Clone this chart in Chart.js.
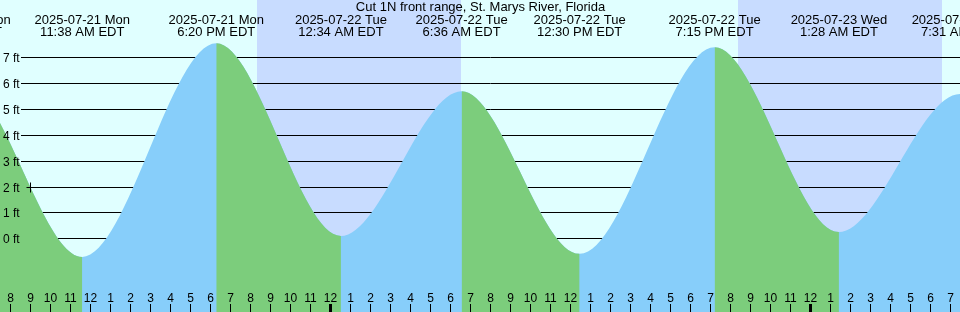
<!DOCTYPE html>
<html>
<head>
<meta charset="utf-8">
<script src="https://cdn.jsdelivr.net/npm/chart.js@4.4.1/dist/chart.umd.min.js"></script>
<style>
  html, body { margin: 0; padding: 0; background: #e0ffff; }
</style>
</head>
<body>
<canvas id="tideChart" width="960" height="312"></canvas>
<script>
//  Tide chart, hours are counted from 2025-07-22 00:00 EDT

var chartTitle = "Cut 1N front range, St. Marys River, Florida";

//  High / low tides (first and last ones are off screen)
var tideHours = [-24.2, -18.33, -12.367, -5.667, 0.567, 6.6, 12.5, 19.25, 25.467, 31.517, 37.6];
var tideFeet  = [0.2, 6.0, -0.72, 7.54, 0.09, 5.69, -0.6, 7.39, 0.24, 5.58, -0.5];
var tideDates = ["2025-07-20 Sun", "2025-07-21 Mon", "2025-07-21 Mon", "2025-07-21 Mon", "2025-07-22 Tue",
                 "2025-07-22 Tue", "2025-07-22 Tue", "2025-07-22 Tue", "2025-07-23 Wed", "2025-07-23 Wed", "2025-07-23 Wed"];
var tideTimes = ["11:48 PM EDT", "5:40 AM EDT", "11:38 AM EDT", "6:20 PM EDT", "12:34 AM EDT",
                 "6:36 AM EDT", "12:30 PM EDT", "7:15 PM EDT", "1:28 AM EDT", "7:31 AM EDT", "1:36 PM EDT"];

//  Night (sunset -> sunrise)
var nightStart = [-3.62, 20.40];
var nightEnd   = [6.55, 30.62];

//  Axis ticks
var footTicks = [0, 1, 2, 3, 4, 5, 6, 7];
var hourTicks = [];
for (var h = -16; h <= 31; h++) hourTicks.push(h);

//  "now" mark
var nowMark = {x: -14.98, y: 2};

var xMin = -16.48, xMax = 31.52;
var yMin = -2.85, yMax = 9.215;

var colBg = "#e0ffff";
var colNight = "#c8dcff";
var colRise = "#87cefa";
var colFall = "#7ccd7c";
var font = "'Liberation Sans', Arial, sans-serif";

function hourLabel(h) {
    var hh = ((h % 24) + 24) % 24;
    var v = hh % 12;
    return String(v === 0 ? 12 : v);
}

var tidePlugin = {
    id: 'tideDeco',
    beforeDraw: function (chart) {
        var ctx = chart.ctx, x = chart.scales.x;
        ctx.save();
        ctx.fillStyle = colBg;
        ctx.fillRect(0, 0, chart.width, chart.height);
        ctx.fillStyle = colNight;
        for (var i = 0; i < nightStart.length; i++) {
            var x0 = Math.round(x.getPixelForValue(nightStart[i]));
            var x1 = Math.round(x.getPixelForValue(nightEnd[i]));
            ctx.fillRect(x0, 0, x1 - x0, chart.height);
        }
        ctx.restore();
    },
    beforeDatasetsDraw: function (chart) {
        var ctx = chart.ctx, y = chart.scales.y;
        ctx.save();
        ctx.strokeStyle = "#000";
        ctx.lineWidth = 1;
        footTicks.forEach(function (f) {
            var py = Math.round(y.getPixelForValue(f)) + 0.5;
            ctx.beginPath();
            ctx.moveTo(21, py);
            ctx.lineTo(chart.width, py);
            ctx.stroke();
        });
        ctx.restore();
    },
    afterDatasetsDraw: function (chart) {
        var ctx = chart.ctx, x = chart.scales.x, y = chart.scales.y;
        ctx.save();
        ctx.fillStyle = "#000";
        ctx.strokeStyle = "#000";

        //  foot labels
        ctx.font = "12px " + font;
        ctx.textAlign = "left";
        ctx.textBaseline = "alphabetic";
        footTicks.forEach(function (f) {
            var py = Math.round(y.getPixelForValue(f));
            ctx.fillText(f + " ft", 3, py + 5);
        });

        //  hour labels and ticks
        ctx.textAlign = "center";
        hourTicks.forEach(function (h) {
            var px = Math.round(x.getPixelForValue(h));
            ctx.fillText(hourLabel(h), px + 0.5, 302);
            var midnight = (((h % 24) + 24) % 24) === 0;
            ctx.fillRect(midnight ? px - 1 : px, 304, midnight ? 3 : 1, 8);
        });

        //  high / low labels
        ctx.font = "13px " + font;
        tideHours.forEach(function (t, i) {
            var px = x.getPixelForValue(t);
            ctx.fillText(tideDates[i], px, 24);
            ctx.fillText(tideTimes[i], px, 36);
        });

        //  title
        ctx.fillText(chartTitle, 480.5, 11);

        //  now mark
        var mx = Math.round(x.getPixelForValue(nowMark.x)) + 0.5;
        var my = Math.round(y.getPixelForValue(nowMark.y)) + 0.5;
        ctx.beginPath();
        ctx.moveTo(mx - 4, my); ctx.lineTo(mx + 5, my);
        ctx.moveTo(mx, my - 5); ctx.lineTo(mx, my + 5);
        ctx.stroke();
        ctx.restore();
    }
};

var points = tideHours.map(function (t, i) { return {x: t, y: tideFeet[i]}; });

var common = {
    data: points,
    fill: 'start',
    borderWidth: 0,
    borderColor: 'rgba(0,0,0,0)',
    pointRadius: 0,
    cubicInterpolationMode: 'monotone'
};

new Chart(document.getElementById("tideChart"), {
    type: 'line',
    data: {
        datasets: [
            //  falling tide, drawn on top
            Object.assign({}, common, {
                label: 'falling',
                backgroundColor: colFall,
                segment: {
                    backgroundColor: function (c) {
                        return c.p1.parsed.y > c.p0.parsed.y ? 'rgba(0,0,0,0)' : colFall;
                    }
                }
            }),
            //  rising tide, whole area underneath
            Object.assign({}, common, {
                label: 'rising',
                backgroundColor: colRise
            })
        ]
    },
    options: {
        responsive: false,
        animation: false,
        events: [],
        layout: {padding: 0},
        plugins: {
            legend: {display: false},
            title: {display: false},
            tooltip: {enabled: false}
        },
        scales: {
            x: {type: 'linear', min: xMin, max: xMax, display: false},
            y: {type: 'linear', min: yMin, max: yMax, display: false}
        }
    },
    plugins: [tidePlugin]
});
</script>
</body>
</html>
